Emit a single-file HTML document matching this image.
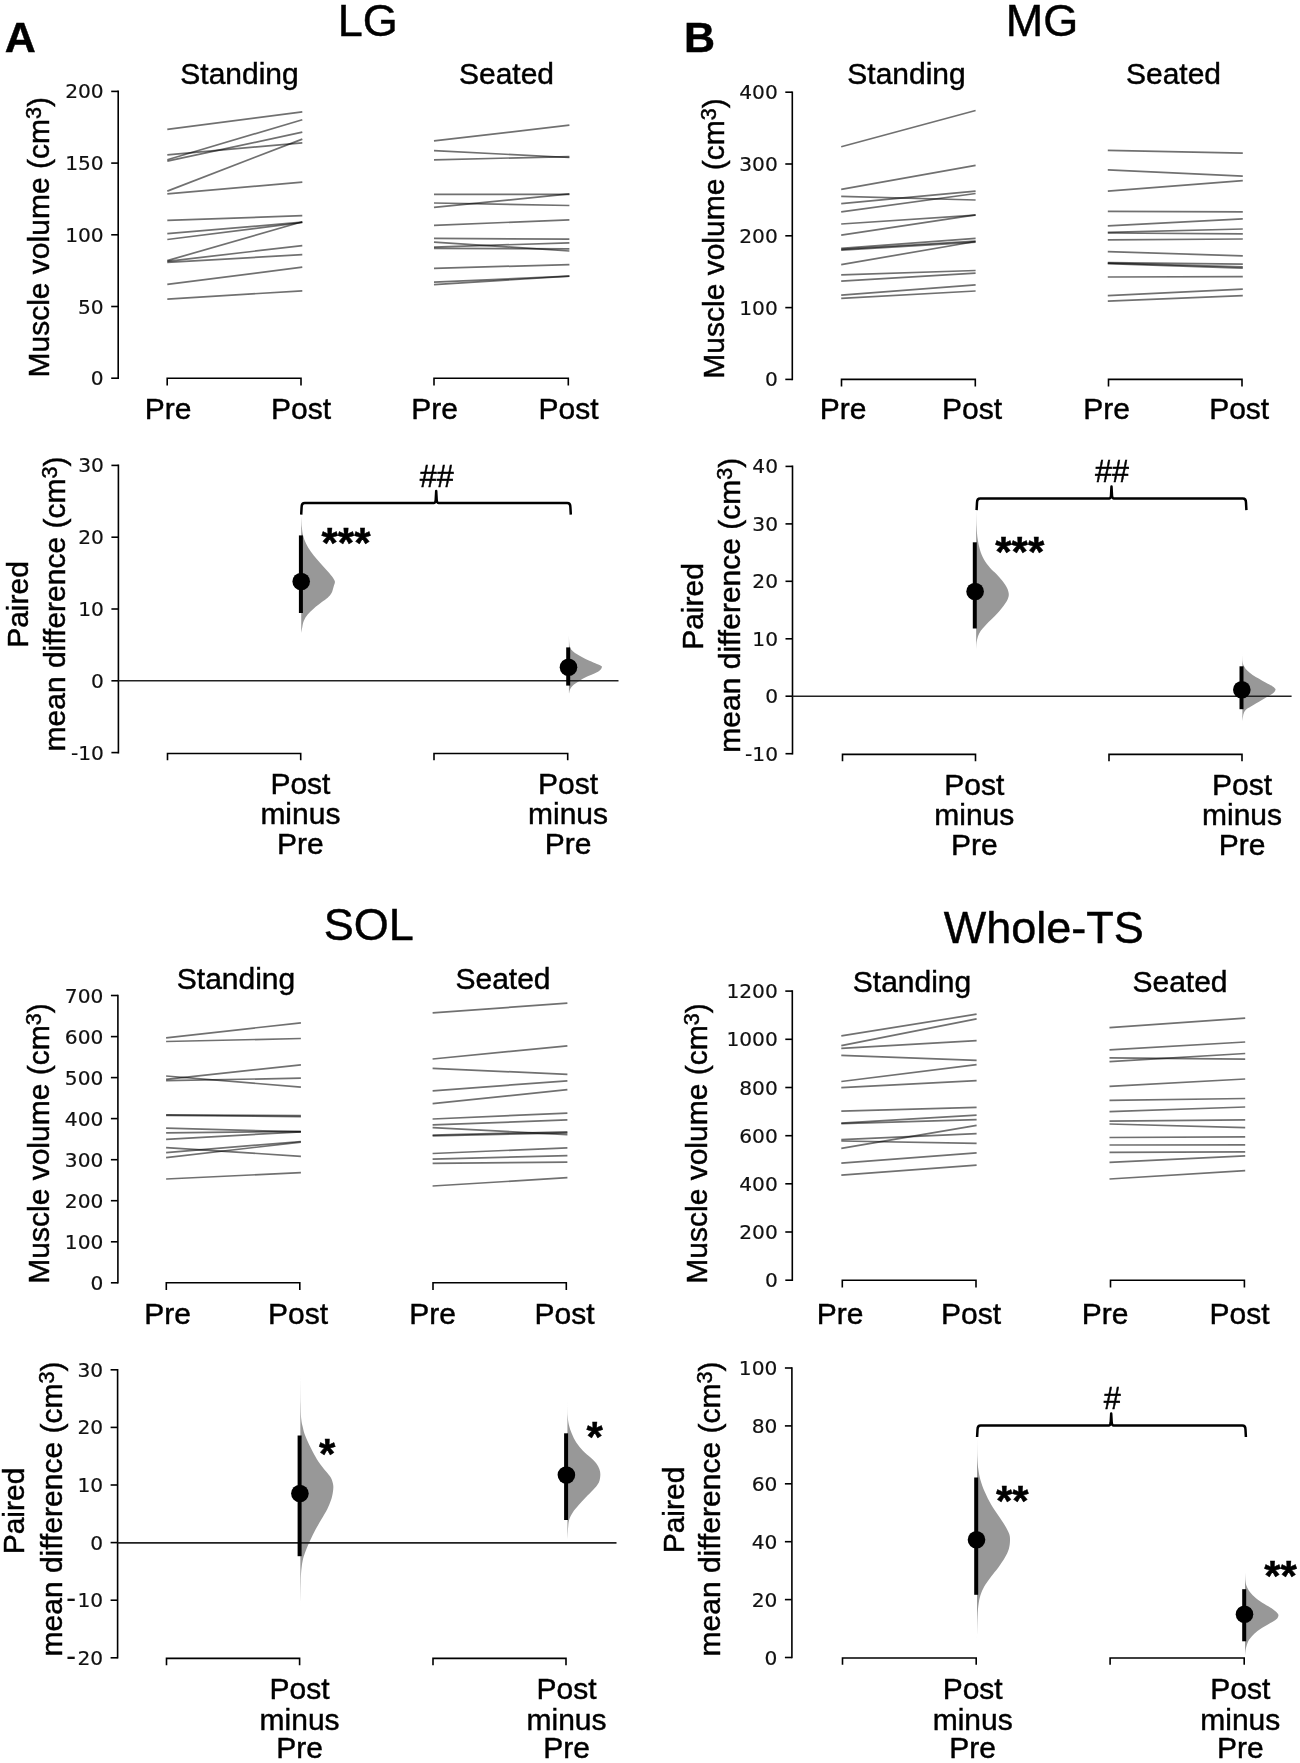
<!DOCTYPE html>
<html><head><meta charset="utf-8"><title>Figure</title>
<style>
html,body{margin:0;padding:0;background:#fff;}
svg{display:block;will-change:transform;}
text{font-family:"Liberation Sans",Arial,Helvetica,sans-serif;fill:#000;stroke:#000;stroke-width:0.45px;}
.tk{font-family:"DejaVu Sans",Verdana,sans-serif;font-size:20.2px;fill:#111;stroke:#111;stroke-width:0.2px;}
</style></head><body>
<svg width="1300" height="1763" viewBox="0 0 1300 1763">
<rect width="1300" height="1763" fill="#fff"/>
<text x="20.2" y="51.5" text-anchor="middle" font-size="43" font-weight="bold">A</text>
<text x="367.7" y="36.0" text-anchor="middle" font-size="45" >LG</text>
<text x="239.5" y="84.0" text-anchor="middle" font-size="30" >Standing</text>
<text x="506.5" y="84.0" text-anchor="middle" font-size="30" >Seated</text>
<line x1="118.2" y1="90.6" x2="118.2" y2="379.0" stroke="#000" stroke-width="1.6"/>
<line x1="111.2" y1="378.2" x2="118.2" y2="378.2" stroke="#000" stroke-width="1.6"/>
<text x="103.7" y="385.2" text-anchor="end" class="tk">0</text>
<line x1="111.2" y1="306.5" x2="118.2" y2="306.5" stroke="#000" stroke-width="1.6"/>
<text x="103.7" y="313.5" text-anchor="end" class="tk">50</text>
<line x1="111.2" y1="234.8" x2="118.2" y2="234.8" stroke="#000" stroke-width="1.6"/>
<text x="103.7" y="241.8" text-anchor="end" class="tk">100</text>
<line x1="111.2" y1="163.1" x2="118.2" y2="163.1" stroke="#000" stroke-width="1.6"/>
<text x="103.7" y="170.1" text-anchor="end" class="tk">150</text>
<line x1="111.2" y1="91.4" x2="118.2" y2="91.4" stroke="#000" stroke-width="1.6"/>
<text x="103.7" y="98.4" text-anchor="end" class="tk">200</text>
<text transform="translate(49.0 237.3) rotate(-90)" text-anchor="middle" font-size="30">Muscle volume (cm<tspan font-size="72%" dy="-0.36em">3</tspan><tspan dy="0.26em">)</tspan></text>
<line x1="167.3" y1="129.3" x2="302.3" y2="111.8" stroke="#000" stroke-opacity="0.56" stroke-width="1.7"/>
<line x1="167.3" y1="154.8" x2="302.3" y2="142.8" stroke="#000" stroke-opacity="0.56" stroke-width="1.7"/>
<line x1="167.3" y1="159.8" x2="302.3" y2="119.7" stroke="#000" stroke-opacity="0.56" stroke-width="1.7"/>
<line x1="167.3" y1="161.2" x2="302.3" y2="132.1" stroke="#000" stroke-opacity="0.56" stroke-width="1.7"/>
<line x1="167.3" y1="191.1" x2="302.3" y2="139.1" stroke="#000" stroke-opacity="0.56" stroke-width="1.7"/>
<line x1="167.3" y1="193.9" x2="302.3" y2="182.1" stroke="#000" stroke-opacity="0.56" stroke-width="1.7"/>
<line x1="167.3" y1="220.3" x2="302.3" y2="215.7" stroke="#000" stroke-opacity="0.56" stroke-width="1.7"/>
<line x1="167.3" y1="233.6" x2="302.3" y2="222.2" stroke="#000" stroke-opacity="0.56" stroke-width="1.7"/>
<line x1="167.3" y1="239.5" x2="302.3" y2="222.5" stroke="#000" stroke-opacity="0.56" stroke-width="1.7"/>
<line x1="167.3" y1="260.6" x2="302.3" y2="221.8" stroke="#000" stroke-opacity="0.56" stroke-width="1.7"/>
<line x1="167.3" y1="261.3" x2="302.3" y2="245.6" stroke="#000" stroke-opacity="0.56" stroke-width="1.7"/>
<line x1="167.3" y1="262.4" x2="302.3" y2="254.6" stroke="#000" stroke-opacity="0.56" stroke-width="1.7"/>
<line x1="167.3" y1="284.4" x2="302.3" y2="267.2" stroke="#000" stroke-opacity="0.56" stroke-width="1.7"/>
<line x1="167.3" y1="299.1" x2="302.3" y2="290.8" stroke="#000" stroke-opacity="0.56" stroke-width="1.7"/>
<line x1="434.0" y1="140.9" x2="569.4" y2="125.2" stroke="#000" stroke-opacity="0.56" stroke-width="1.7"/>
<line x1="434.0" y1="150.7" x2="569.4" y2="157.5" stroke="#000" stroke-opacity="0.56" stroke-width="1.7"/>
<line x1="434.0" y1="159.8" x2="569.4" y2="156.6" stroke="#000" stroke-opacity="0.56" stroke-width="1.7"/>
<line x1="434.0" y1="194.3" x2="569.4" y2="194.3" stroke="#000" stroke-opacity="0.56" stroke-width="1.7"/>
<line x1="434.0" y1="203.0" x2="569.4" y2="205.5" stroke="#000" stroke-opacity="0.56" stroke-width="1.7"/>
<line x1="434.0" y1="207.4" x2="569.4" y2="193.9" stroke="#000" stroke-opacity="0.56" stroke-width="1.7"/>
<line x1="434.0" y1="225.3" x2="569.4" y2="219.9" stroke="#000" stroke-opacity="0.56" stroke-width="1.7"/>
<line x1="434.0" y1="238.4" x2="569.4" y2="239.1" stroke="#000" stroke-opacity="0.56" stroke-width="1.7"/>
<line x1="434.0" y1="242.1" x2="569.4" y2="251.0" stroke="#000" stroke-opacity="0.56" stroke-width="1.7"/>
<line x1="434.0" y1="247.1" x2="569.4" y2="242.8" stroke="#000" stroke-opacity="0.56" stroke-width="1.7"/>
<line x1="434.0" y1="248.4" x2="569.4" y2="248.9" stroke="#000" stroke-opacity="0.56" stroke-width="1.7"/>
<line x1="434.0" y1="268.3" x2="569.4" y2="264.6" stroke="#000" stroke-opacity="0.56" stroke-width="1.7"/>
<line x1="434.0" y1="282.2" x2="569.4" y2="276.2" stroke="#000" stroke-opacity="0.56" stroke-width="1.7"/>
<line x1="434.0" y1="284.6" x2="569.4" y2="276.2" stroke="#000" stroke-opacity="0.56" stroke-width="1.7"/>
<path d="M167.2 385.4V378.2H301.0V385.4" fill="none" stroke="#000" stroke-width="1.6"/>
<path d="M434.0 385.4V378.2H568.3V385.4" fill="none" stroke="#000" stroke-width="1.6"/>
<text x="168.0" y="419.0" text-anchor="middle" font-size="30" >Pre</text>
<text x="301.0" y="419.0" text-anchor="middle" font-size="30" >Post</text>
<text x="434.5" y="419.0" text-anchor="middle" font-size="30" >Pre</text>
<text x="568.5" y="419.0" text-anchor="middle" font-size="30" >Post</text>
<line x1="118.4" y1="464.6" x2="118.4" y2="753.4" stroke="#000" stroke-width="1.6"/>
<line x1="111.4" y1="752.6" x2="118.4" y2="752.6" stroke="#000" stroke-width="1.6"/>
<text x="103.9" y="759.6" text-anchor="end" class="tk">-10</text>
<line x1="111.4" y1="680.8" x2="118.4" y2="680.8" stroke="#000" stroke-width="1.6"/>
<text x="103.9" y="687.8" text-anchor="end" class="tk">0</text>
<line x1="111.4" y1="609.0" x2="118.4" y2="609.0" stroke="#000" stroke-width="1.6"/>
<text x="103.9" y="616.0" text-anchor="end" class="tk">10</text>
<line x1="111.4" y1="537.2" x2="118.4" y2="537.2" stroke="#000" stroke-width="1.6"/>
<text x="103.9" y="544.2" text-anchor="end" class="tk">20</text>
<line x1="111.4" y1="465.4" x2="118.4" y2="465.4" stroke="#000" stroke-width="1.6"/>
<text x="103.9" y="472.4" text-anchor="end" class="tk">30</text>
<text transform="translate(27.5 604.5) rotate(-90)" text-anchor="middle" font-size="30">Paired</text>
<text transform="translate(64.7 604.0) rotate(-90)" text-anchor="middle" font-size="30">mean difference (cm<tspan font-size="72%" dy="-0.36em">3</tspan><tspan dy="0.26em">)</tspan></text>
<path d="M301.23 516.15C301.33 517.95 301.54 523.72 301.85 526.92C302.15 530.13 302.36 532.56 303.08 535.38C303.79 538.21 304.87 541.15 306.15 543.85C307.44 546.54 308.97 548.97 310.77 551.54C312.56 554.10 314.87 556.79 316.92 559.23C318.97 561.67 321.03 563.85 323.08 566.15C325.13 568.46 327.44 570.90 329.23 573.08C331.03 575.26 332.90 577.69 333.85 579.23C334.79 580.77 334.97 581.03 334.92 582.31C334.87 583.59 334.10 585.13 333.54 586.92C332.97 588.72 332.51 591.28 331.54 593.08C330.56 594.87 329.36 596.15 327.69 597.69C326.03 599.23 323.85 600.51 321.54 602.31C319.23 604.10 316.15 606.41 313.85 608.46C311.54 610.51 309.36 612.56 307.69 614.62C306.03 616.67 304.74 618.72 303.85 620.77C302.95 622.82 302.74 624.87 302.31 626.92C301.87 628.97 301.41 632.05 301.23 633.08L301.23 633.08 Z" fill="#989898"/>
<path d="M568.92 635.54C568.98 636.79 569.07 641.10 569.25 643.08C569.43 645.05 569.52 646.13 570.00 647.38C570.48 648.64 571.26 649.63 572.15 650.62C573.05 651.60 573.77 652.23 575.38 653.31C577.00 654.38 579.51 655.82 581.85 657.08C584.18 658.33 586.87 659.68 589.38 660.85C591.90 662.01 594.95 663.23 596.92 664.08C598.90 664.92 600.41 665.42 601.23 665.91C602.06 666.39 601.97 666.39 601.88 666.98C601.79 667.58 601.52 668.56 600.69 669.46C599.87 670.36 598.45 671.47 596.92 672.37C595.40 673.27 593.51 673.98 591.54 674.85C589.56 675.71 587.05 676.55 585.08 677.54C583.10 678.53 581.31 679.78 579.69 680.77C578.08 681.76 576.64 682.56 575.38 683.46C574.13 684.36 573.05 685.17 572.15 686.15C571.26 687.14 570.50 688.22 570.00 689.38C569.50 690.55 569.28 692.53 569.14 693.15L568.92 693.15 Z" fill="#989898"/>
<line x1="118.4" y1="680.8" x2="618.5" y2="680.8" stroke="#222" stroke-width="1.6"/>
<line x1="300.9" y1="535.4" x2="300.9" y2="613.0" stroke="#000" stroke-width="4.0"/>
<circle cx="301.2" cy="581.5" r="8.8" fill="#000"/>
<line x1="568.2" y1="647.4" x2="568.2" y2="685.6" stroke="#000" stroke-width="4.0"/>
<circle cx="568.5" cy="667.3" r="8.8" fill="#000"/>
<path d="M301.2 514.6 L301.6 507.3 Q301.6 503.1 304.8 503.1 H433.8 Q435.3 503.1 435.7 500.1 L436.2 491.1 L436.7 500.1 Q437.1 503.1 438.6 503.1 H567.2 Q570.4 503.1 570.4 507.3 L570.8 514.6" fill="none" stroke="#000" stroke-width="2.5" stroke-linejoin="round"/>
<text x="436.7" y="486.8" text-anchor="middle" font-size="30.5" stroke-width="1.1">##</text>
<text x="346.0" y="556.5" text-anchor="middle" font-size="42" font-weight="bold">***</text>
<path d="M167.5 760.3V753.5H300.7V760.3" fill="none" stroke="#000" stroke-width="1.6"/>
<path d="M434.0 760.3V753.5H567.7V760.3" fill="none" stroke="#000" stroke-width="1.6"/>
<text x="300.4" y="794.0" text-anchor="middle" font-size="30" >Post</text>
<text x="300.4" y="824.0" text-anchor="middle" font-size="30" >minus</text>
<text x="300.4" y="854.0" text-anchor="middle" font-size="30" >Pre</text>
<text x="568.0" y="794.0" text-anchor="middle" font-size="30" >Post</text>
<text x="568.0" y="824.0" text-anchor="middle" font-size="30" >minus</text>
<text x="568.0" y="854.0" text-anchor="middle" font-size="30" >Pre</text>
<text x="699.5" y="51.5" text-anchor="middle" font-size="43" font-weight="bold">B</text>
<text x="1042.0" y="36.3" text-anchor="middle" font-size="45" >MG</text>
<text x="906.5" y="84.0" text-anchor="middle" font-size="30" >Standing</text>
<text x="1173.5" y="84.0" text-anchor="middle" font-size="30" >Seated</text>
<line x1="792.3" y1="91.5" x2="792.3" y2="380.2" stroke="#000" stroke-width="1.6"/>
<line x1="785.3" y1="379.4" x2="792.3" y2="379.4" stroke="#000" stroke-width="1.6"/>
<text x="777.8" y="386.4" text-anchor="end" class="tk">0</text>
<line x1="785.3" y1="307.6" x2="792.3" y2="307.6" stroke="#000" stroke-width="1.6"/>
<text x="777.8" y="314.6" text-anchor="end" class="tk">100</text>
<line x1="785.3" y1="235.8" x2="792.3" y2="235.8" stroke="#000" stroke-width="1.6"/>
<text x="777.8" y="242.8" text-anchor="end" class="tk">200</text>
<line x1="785.3" y1="164.0" x2="792.3" y2="164.0" stroke="#000" stroke-width="1.6"/>
<text x="777.8" y="171.0" text-anchor="end" class="tk">300</text>
<line x1="785.3" y1="92.2" x2="792.3" y2="92.2" stroke="#000" stroke-width="1.6"/>
<text x="777.8" y="99.2" text-anchor="end" class="tk">400</text>
<text transform="translate(724.0 238.5) rotate(-90)" text-anchor="middle" font-size="30">Muscle volume (cm<tspan font-size="72%" dy="-0.36em">3</tspan><tspan dy="0.26em">)</tspan></text>
<line x1="841.2" y1="146.8" x2="975.6" y2="110.5" stroke="#000" stroke-opacity="0.56" stroke-width="1.7"/>
<line x1="841.2" y1="189.3" x2="975.6" y2="165.3" stroke="#000" stroke-opacity="0.56" stroke-width="1.7"/>
<line x1="841.2" y1="196.3" x2="975.6" y2="200.0" stroke="#000" stroke-opacity="0.56" stroke-width="1.7"/>
<line x1="841.2" y1="203.7" x2="975.6" y2="191.1" stroke="#000" stroke-opacity="0.56" stroke-width="1.7"/>
<line x1="841.2" y1="211.8" x2="975.6" y2="193.5" stroke="#000" stroke-opacity="0.56" stroke-width="1.7"/>
<line x1="841.2" y1="224.0" x2="975.6" y2="215.1" stroke="#000" stroke-opacity="0.56" stroke-width="1.7"/>
<line x1="841.2" y1="235.1" x2="975.6" y2="214.8" stroke="#000" stroke-opacity="0.56" stroke-width="1.7"/>
<line x1="841.2" y1="248.4" x2="975.6" y2="238.4" stroke="#000" stroke-opacity="0.56" stroke-width="1.7"/>
<line x1="841.2" y1="249.3" x2="975.6" y2="241.0" stroke="#000" stroke-opacity="0.56" stroke-width="1.7"/>
<line x1="841.2" y1="250.2" x2="975.6" y2="242.1" stroke="#000" stroke-opacity="0.56" stroke-width="1.7"/>
<line x1="841.2" y1="264.6" x2="975.6" y2="241.5" stroke="#000" stroke-opacity="0.56" stroke-width="1.7"/>
<line x1="841.2" y1="274.8" x2="975.6" y2="270.5" stroke="#000" stroke-opacity="0.56" stroke-width="1.7"/>
<line x1="841.2" y1="281.2" x2="975.6" y2="273.1" stroke="#000" stroke-opacity="0.56" stroke-width="1.7"/>
<line x1="841.2" y1="295.1" x2="975.6" y2="284.9" stroke="#000" stroke-opacity="0.56" stroke-width="1.7"/>
<line x1="841.2" y1="298.4" x2="975.6" y2="291.0" stroke="#000" stroke-opacity="0.56" stroke-width="1.7"/>
<line x1="1107.8" y1="150.3" x2="1242.8" y2="153.1" stroke="#000" stroke-opacity="0.56" stroke-width="1.7"/>
<line x1="1107.8" y1="169.9" x2="1242.8" y2="176.2" stroke="#000" stroke-opacity="0.56" stroke-width="1.7"/>
<line x1="1107.8" y1="191.1" x2="1242.8" y2="180.6" stroke="#000" stroke-opacity="0.56" stroke-width="1.7"/>
<line x1="1107.8" y1="211.3" x2="1242.8" y2="211.8" stroke="#000" stroke-opacity="0.56" stroke-width="1.7"/>
<line x1="1107.8" y1="225.8" x2="1242.8" y2="218.8" stroke="#000" stroke-opacity="0.56" stroke-width="1.7"/>
<line x1="1107.8" y1="232.3" x2="1242.8" y2="229.0" stroke="#000" stroke-opacity="0.56" stroke-width="1.7"/>
<line x1="1107.8" y1="233.0" x2="1242.8" y2="233.8" stroke="#000" stroke-opacity="0.56" stroke-width="1.7"/>
<line x1="1107.8" y1="239.9" x2="1242.8" y2="239.0" stroke="#000" stroke-opacity="0.56" stroke-width="1.7"/>
<line x1="1107.8" y1="251.7" x2="1242.8" y2="255.8" stroke="#000" stroke-opacity="0.56" stroke-width="1.7"/>
<line x1="1107.8" y1="262.6" x2="1242.8" y2="264.2" stroke="#000" stroke-opacity="0.56" stroke-width="1.7"/>
<line x1="1107.8" y1="263.1" x2="1242.8" y2="266.8" stroke="#000" stroke-opacity="0.56" stroke-width="1.7"/>
<line x1="1107.8" y1="263.7" x2="1242.8" y2="268.1" stroke="#000" stroke-opacity="0.56" stroke-width="1.7"/>
<line x1="1107.8" y1="277.0" x2="1242.8" y2="276.6" stroke="#000" stroke-opacity="0.56" stroke-width="1.7"/>
<line x1="1107.8" y1="295.6" x2="1242.8" y2="289.2" stroke="#000" stroke-opacity="0.56" stroke-width="1.7"/>
<line x1="1107.8" y1="301.2" x2="1242.8" y2="295.6" stroke="#000" stroke-opacity="0.56" stroke-width="1.7"/>
<path d="M841.5 386.6V379.4H975.3V386.6" fill="none" stroke="#000" stroke-width="1.6"/>
<path d="M1108.5 386.6V379.4H1242.0V386.6" fill="none" stroke="#000" stroke-width="1.6"/>
<text x="843.1" y="419.0" text-anchor="middle" font-size="30" >Pre</text>
<text x="972.0" y="419.0" text-anchor="middle" font-size="30" >Post</text>
<text x="1106.5" y="419.0" text-anchor="middle" font-size="30" >Pre</text>
<text x="1239.2" y="419.0" text-anchor="middle" font-size="30" >Post</text>
<line x1="792.5" y1="465.5" x2="792.5" y2="754.5" stroke="#000" stroke-width="1.6"/>
<line x1="785.5" y1="753.7" x2="792.5" y2="753.7" stroke="#000" stroke-width="1.6"/>
<text x="778.0" y="760.7" text-anchor="end" class="tk">-10</text>
<line x1="785.5" y1="696.2" x2="792.5" y2="696.2" stroke="#000" stroke-width="1.6"/>
<text x="778.0" y="703.2" text-anchor="end" class="tk">0</text>
<line x1="785.5" y1="638.8" x2="792.5" y2="638.8" stroke="#000" stroke-width="1.6"/>
<text x="778.0" y="645.8" text-anchor="end" class="tk">10</text>
<line x1="785.5" y1="581.3" x2="792.5" y2="581.3" stroke="#000" stroke-width="1.6"/>
<text x="778.0" y="588.3" text-anchor="end" class="tk">20</text>
<line x1="785.5" y1="523.9" x2="792.5" y2="523.9" stroke="#000" stroke-width="1.6"/>
<text x="778.0" y="530.9" text-anchor="end" class="tk">30</text>
<line x1="785.5" y1="466.4" x2="792.5" y2="466.4" stroke="#000" stroke-width="1.6"/>
<text x="778.0" y="473.4" text-anchor="end" class="tk">40</text>
<text transform="translate(702.5 606.5) rotate(-90)" text-anchor="middle" font-size="30">Paired</text>
<text transform="translate(740.0 605.2) rotate(-90)" text-anchor="middle" font-size="30">mean difference (cm<tspan font-size="72%" dy="-0.36em">3</tspan><tspan dy="0.26em">)</tspan></text>
<path d="M976.15 510.77C976.23 513.46 976.36 522.18 976.62 526.92C976.87 531.67 977.13 535.38 977.69 539.23C978.26 543.08 978.97 546.67 980.00 550.00C981.03 553.33 982.18 556.28 983.85 559.23C985.51 562.18 987.95 565.26 990.00 567.69C992.05 570.13 994.10 571.67 996.15 573.85C998.21 576.03 1000.51 578.46 1002.31 580.77C1004.10 583.08 1005.85 585.51 1006.92 587.69C1008.00 589.87 1008.64 591.92 1008.77 593.85C1008.90 595.77 1008.51 597.31 1007.69 599.23C1006.87 601.15 1005.51 603.08 1003.85 605.38C1002.18 607.69 999.74 610.77 997.69 613.08C995.64 615.38 993.59 617.18 991.54 619.23C989.49 621.28 987.18 623.46 985.38 625.38C983.59 627.31 982.00 628.97 980.77 630.77C979.54 632.56 978.69 634.23 978.00 636.15C977.31 638.08 976.92 640.00 976.62 642.31C976.31 644.62 976.23 648.72 976.15 650.00L976.15 650.00 Z" fill="#989898"/>
<path d="M1242.38 653.92C1242.44 655.27 1242.44 659.94 1242.71 662.00C1242.98 664.06 1243.25 664.87 1244.00 666.31C1244.75 667.74 1245.80 669.18 1247.23 670.62C1248.67 672.05 1250.64 673.58 1252.62 674.92C1254.59 676.27 1256.92 677.44 1259.08 678.69C1261.23 679.95 1263.38 681.26 1265.54 682.46C1267.69 683.66 1270.42 684.92 1272.00 685.91C1273.58 686.89 1274.44 687.70 1275.02 688.38C1275.59 689.07 1275.68 689.28 1275.45 690.00C1275.21 690.72 1274.73 691.71 1273.62 692.69C1272.50 693.68 1270.65 694.76 1268.77 695.92C1266.88 697.09 1264.46 698.44 1262.31 699.69C1260.15 700.95 1257.82 702.29 1255.85 703.46C1253.87 704.63 1252.08 705.71 1250.46 706.69C1248.85 707.68 1247.23 708.40 1246.15 709.38C1245.08 710.37 1244.54 711.36 1244.00 712.62C1243.46 713.87 1243.19 715.49 1242.92 716.92C1242.65 718.36 1242.47 720.51 1242.38 721.23L1242.38 721.23 Z" fill="#989898"/>
<line x1="792.5" y1="696.2" x2="1291.6" y2="696.2" stroke="#222" stroke-width="1.6"/>
<line x1="974.8" y1="542.3" x2="974.8" y2="628.5" stroke="#000" stroke-width="4.0"/>
<circle cx="975.1" cy="591.5" r="8.8" fill="#000"/>
<line x1="1241.5" y1="666.3" x2="1241.5" y2="709.2" stroke="#000" stroke-width="4.0"/>
<circle cx="1241.8" cy="689.8" r="8.8" fill="#000"/>
<path d="M976.6 510.1 L977.0 502.8 Q977.0 498.6 980.2 498.6 H1109.1 Q1110.6 498.6 1111.0 495.6 L1111.5 486.6 L1112.0 495.6 Q1112.4 498.6 1113.9 498.6 H1242.8 Q1246.0 498.6 1246.0 502.8 L1246.4 510.1" fill="none" stroke="#000" stroke-width="2.5" stroke-linejoin="round"/>
<text x="1112.0" y="482.3" text-anchor="middle" font-size="30.5" stroke-width="1.1">##</text>
<text x="1019.8" y="566.0" text-anchor="middle" font-size="42" font-weight="bold">***</text>
<path d="M842.5 761.2V754.4H975.5V761.2" fill="none" stroke="#000" stroke-width="1.6"/>
<path d="M1109.0 761.2V754.4H1242.0V761.2" fill="none" stroke="#000" stroke-width="1.6"/>
<text x="974.3" y="795.0" text-anchor="middle" font-size="30" >Post</text>
<text x="974.3" y="825.0" text-anchor="middle" font-size="30" >minus</text>
<text x="974.3" y="855.0" text-anchor="middle" font-size="30" >Pre</text>
<text x="1242.0" y="795.0" text-anchor="middle" font-size="30" >Post</text>
<text x="1242.0" y="825.0" text-anchor="middle" font-size="30" >minus</text>
<text x="1242.0" y="855.0" text-anchor="middle" font-size="30" >Pre</text>
<text x="368.7" y="940.0" text-anchor="middle" font-size="45" >SOL</text>
<text x="236.0" y="989.0" text-anchor="middle" font-size="30" >Standing</text>
<text x="503.0" y="989.0" text-anchor="middle" font-size="30" >Seated</text>
<line x1="117.9" y1="994.7" x2="117.9" y2="1283.6" stroke="#000" stroke-width="1.6"/>
<line x1="110.9" y1="1282.8" x2="117.9" y2="1282.8" stroke="#000" stroke-width="1.6"/>
<text x="103.4" y="1289.8" text-anchor="end" class="tk">0</text>
<line x1="110.9" y1="1241.8" x2="117.9" y2="1241.8" stroke="#000" stroke-width="1.6"/>
<text x="103.4" y="1248.8" text-anchor="end" class="tk">100</text>
<line x1="110.9" y1="1200.7" x2="117.9" y2="1200.7" stroke="#000" stroke-width="1.6"/>
<text x="103.4" y="1207.7" text-anchor="end" class="tk">200</text>
<line x1="110.9" y1="1159.7" x2="117.9" y2="1159.7" stroke="#000" stroke-width="1.6"/>
<text x="103.4" y="1166.7" text-anchor="end" class="tk">300</text>
<line x1="110.9" y1="1118.6" x2="117.9" y2="1118.6" stroke="#000" stroke-width="1.6"/>
<text x="103.4" y="1125.6" text-anchor="end" class="tk">400</text>
<line x1="110.9" y1="1077.6" x2="117.9" y2="1077.6" stroke="#000" stroke-width="1.6"/>
<text x="103.4" y="1084.6" text-anchor="end" class="tk">500</text>
<line x1="110.9" y1="1036.6" x2="117.9" y2="1036.6" stroke="#000" stroke-width="1.6"/>
<text x="103.4" y="1043.6" text-anchor="end" class="tk">600</text>
<line x1="110.9" y1="995.5" x2="117.9" y2="995.5" stroke="#000" stroke-width="1.6"/>
<text x="103.4" y="1002.5" text-anchor="end" class="tk">700</text>
<text transform="translate(49.0 1143.5) rotate(-90)" text-anchor="middle" font-size="30">Muscle volume (cm<tspan font-size="72%" dy="-0.36em">3</tspan><tspan dy="0.26em">)</tspan></text>
<line x1="166.1" y1="1037.8" x2="300.9" y2="1022.8" stroke="#000" stroke-opacity="0.56" stroke-width="1.7"/>
<line x1="166.1" y1="1041.5" x2="300.9" y2="1038.5" stroke="#000" stroke-opacity="0.56" stroke-width="1.7"/>
<line x1="166.1" y1="1076.0" x2="300.9" y2="1087.1" stroke="#000" stroke-opacity="0.56" stroke-width="1.7"/>
<line x1="166.1" y1="1079.3" x2="300.9" y2="1064.9" stroke="#000" stroke-opacity="0.56" stroke-width="1.7"/>
<line x1="166.1" y1="1080.6" x2="300.9" y2="1078.2" stroke="#000" stroke-opacity="0.56" stroke-width="1.7"/>
<line x1="166.1" y1="1114.8" x2="300.9" y2="1115.7" stroke="#000" stroke-opacity="0.56" stroke-width="1.7"/>
<line x1="166.1" y1="1115.3" x2="300.9" y2="1116.6" stroke="#000" stroke-opacity="0.56" stroke-width="1.7"/>
<line x1="166.1" y1="1128.2" x2="300.9" y2="1131.8" stroke="#000" stroke-opacity="0.56" stroke-width="1.7"/>
<line x1="166.1" y1="1132.9" x2="300.9" y2="1131.4" stroke="#000" stroke-opacity="0.56" stroke-width="1.7"/>
<line x1="166.1" y1="1139.3" x2="300.9" y2="1131.8" stroke="#000" stroke-opacity="0.56" stroke-width="1.7"/>
<line x1="166.1" y1="1147.6" x2="300.9" y2="1156.3" stroke="#000" stroke-opacity="0.56" stroke-width="1.7"/>
<line x1="166.1" y1="1152.6" x2="300.9" y2="1141.5" stroke="#000" stroke-opacity="0.56" stroke-width="1.7"/>
<line x1="166.1" y1="1157.6" x2="300.9" y2="1142.1" stroke="#000" stroke-opacity="0.56" stroke-width="1.7"/>
<line x1="166.1" y1="1179.0" x2="300.9" y2="1172.6" stroke="#000" stroke-opacity="0.56" stroke-width="1.7"/>
<line x1="432.6" y1="1012.9" x2="567.4" y2="1003.1" stroke="#000" stroke-opacity="0.56" stroke-width="1.7"/>
<line x1="432.6" y1="1059.0" x2="567.4" y2="1045.9" stroke="#000" stroke-opacity="0.56" stroke-width="1.7"/>
<line x1="432.6" y1="1068.4" x2="567.4" y2="1074.3" stroke="#000" stroke-opacity="0.56" stroke-width="1.7"/>
<line x1="432.6" y1="1090.8" x2="567.4" y2="1080.8" stroke="#000" stroke-opacity="0.56" stroke-width="1.7"/>
<line x1="432.6" y1="1103.7" x2="567.4" y2="1089.7" stroke="#000" stroke-opacity="0.56" stroke-width="1.7"/>
<line x1="432.6" y1="1119.0" x2="567.4" y2="1113.1" stroke="#000" stroke-opacity="0.56" stroke-width="1.7"/>
<line x1="432.6" y1="1124.9" x2="567.4" y2="1119.9" stroke="#000" stroke-opacity="0.56" stroke-width="1.7"/>
<line x1="432.6" y1="1127.7" x2="567.4" y2="1134.7" stroke="#000" stroke-opacity="0.56" stroke-width="1.7"/>
<line x1="432.6" y1="1135.1" x2="567.4" y2="1131.8" stroke="#000" stroke-opacity="0.56" stroke-width="1.7"/>
<line x1="432.6" y1="1135.8" x2="567.4" y2="1132.9" stroke="#000" stroke-opacity="0.56" stroke-width="1.7"/>
<line x1="432.6" y1="1153.5" x2="567.4" y2="1147.8" stroke="#000" stroke-opacity="0.56" stroke-width="1.7"/>
<line x1="432.6" y1="1159.1" x2="567.4" y2="1155.6" stroke="#000" stroke-opacity="0.56" stroke-width="1.7"/>
<line x1="432.6" y1="1163.3" x2="567.4" y2="1162.2" stroke="#000" stroke-opacity="0.56" stroke-width="1.7"/>
<line x1="432.6" y1="1186.0" x2="567.4" y2="1177.7" stroke="#000" stroke-opacity="0.56" stroke-width="1.7"/>
<path d="M166.3 1290.0V1282.8H299.8V1290.0" fill="none" stroke="#000" stroke-width="1.6"/>
<path d="M433.0 1290.0V1282.8H566.3V1290.0" fill="none" stroke="#000" stroke-width="1.6"/>
<text x="167.5" y="1323.5" text-anchor="middle" font-size="30" >Pre</text>
<text x="298.0" y="1323.5" text-anchor="middle" font-size="30" >Post</text>
<text x="432.5" y="1323.5" text-anchor="middle" font-size="30" >Pre</text>
<text x="564.5" y="1323.5" text-anchor="middle" font-size="30" >Post</text>
<line x1="117.6" y1="1369.0" x2="117.6" y2="1658.6" stroke="#000" stroke-width="1.6"/>
<line x1="110.6" y1="1657.8" x2="117.6" y2="1657.8" stroke="#000" stroke-width="1.6"/>
<text x="103.1" y="1664.8" text-anchor="end" class="tk"><tspan font-size="27">-</tspan><tspan dx="1.3">20</tspan></text>
<line x1="110.6" y1="1600.2" x2="117.6" y2="1600.2" stroke="#000" stroke-width="1.6"/>
<text x="103.1" y="1607.2" text-anchor="end" class="tk"><tspan font-size="27">-</tspan><tspan dx="1.3">10</tspan></text>
<line x1="110.6" y1="1542.6" x2="117.6" y2="1542.6" stroke="#000" stroke-width="1.6"/>
<text x="103.1" y="1549.6" text-anchor="end" class="tk">0</text>
<line x1="110.6" y1="1485.0" x2="117.6" y2="1485.0" stroke="#000" stroke-width="1.6"/>
<text x="103.1" y="1492.0" text-anchor="end" class="tk">10</text>
<line x1="110.6" y1="1427.4" x2="117.6" y2="1427.4" stroke="#000" stroke-width="1.6"/>
<text x="103.1" y="1434.4" text-anchor="end" class="tk">20</text>
<line x1="110.6" y1="1369.8" x2="117.6" y2="1369.8" stroke="#000" stroke-width="1.6"/>
<text x="103.1" y="1376.8" text-anchor="end" class="tk">30</text>
<text transform="translate(24.0 1511.0) rotate(-90)" text-anchor="middle" font-size="30">Paired</text>
<text transform="translate(62.0 1509.0) rotate(-90)" text-anchor="middle" font-size="30">mean difference (cm<tspan font-size="72%" dy="-0.36em">3</tspan><tspan dy="0.26em">)</tspan></text>
<path d="M300.35 1374.75C300.40 1379.67 300.50 1396.87 300.65 1404.25C300.80 1411.62 300.92 1415.31 301.24 1419.00C301.56 1422.68 302.03 1423.91 302.57 1426.37C303.11 1428.83 303.55 1431.04 304.48 1433.75C305.42 1436.45 306.82 1439.65 308.17 1442.60C309.52 1445.55 310.88 1448.25 312.60 1451.45C314.32 1454.64 316.28 1458.45 318.50 1461.77C320.71 1465.09 323.78 1468.65 325.87 1471.36C327.96 1474.06 329.80 1475.66 331.03 1477.99C332.26 1480.33 332.95 1482.91 333.24 1485.37C333.54 1487.83 333.17 1490.29 332.80 1492.74C332.43 1495.20 331.94 1497.41 331.03 1500.12C330.12 1502.82 328.94 1505.77 327.35 1508.97C325.75 1512.16 323.41 1515.85 321.45 1519.29C319.48 1522.73 317.39 1526.18 315.55 1529.62C313.70 1533.06 311.98 1536.50 310.38 1539.94C308.79 1543.38 307.19 1547.07 305.96 1550.27C304.73 1553.46 303.77 1555.92 303.01 1559.12C302.25 1562.31 301.76 1565.75 301.39 1569.44C301.02 1573.13 300.97 1575.09 300.80 1581.24C300.62 1587.38 300.43 1602.13 300.35 1606.31L300.35 1606.31 Z" fill="#989898"/>
<path d="M567.43 1402.04C567.48 1404.37 567.48 1412.24 567.73 1416.05C567.97 1419.86 568.22 1421.95 568.91 1424.90C569.60 1427.85 570.63 1430.80 571.86 1433.75C573.09 1436.70 574.44 1439.77 576.28 1442.60C578.13 1445.42 580.59 1448.25 582.92 1450.71C585.26 1453.17 588.08 1455.26 590.29 1457.35C592.51 1459.43 594.67 1461.28 596.19 1463.24C597.72 1465.21 598.75 1467.18 599.44 1469.14C600.13 1471.11 600.42 1472.83 600.32 1475.04C600.23 1477.26 600.03 1479.96 598.85 1482.42C597.67 1484.88 595.41 1487.34 593.24 1489.79C591.08 1492.25 588.33 1494.59 585.87 1497.17C583.41 1499.75 580.71 1502.70 578.50 1505.28C576.28 1507.86 574.12 1510.32 572.60 1512.65C571.07 1514.99 570.09 1516.96 569.35 1519.29C568.61 1521.63 568.49 1523.23 568.17 1526.67C567.85 1530.11 567.56 1537.73 567.43 1539.94L567.43 1539.94 Z" fill="#989898"/>
<line x1="117.6" y1="1542.9" x2="616.5" y2="1542.9" stroke="#222" stroke-width="1.6"/>
<line x1="299.6" y1="1435.5" x2="299.6" y2="1556.2" stroke="#000" stroke-width="4.0"/>
<circle cx="299.9" cy="1493.5" r="8.8" fill="#000"/>
<line x1="566.1" y1="1433.3" x2="566.1" y2="1520.0" stroke="#000" stroke-width="4.0"/>
<circle cx="566.4" cy="1475.0" r="8.8" fill="#000"/>
<text x="327.3" y="1467.5" text-anchor="middle" font-size="42" font-weight="bold">*</text>
<text x="594.7" y="1451.0" text-anchor="middle" font-size="42" font-weight="bold">*</text>
<path d="M166.5 1665.2V1658.4H299.6V1665.2" fill="none" stroke="#000" stroke-width="1.6"/>
<path d="M433.0 1665.2V1658.4H566.0V1665.2" fill="none" stroke="#000" stroke-width="1.6"/>
<text x="299.6" y="1699.3" text-anchor="middle" font-size="30" >Post</text>
<text x="299.6" y="1729.5" text-anchor="middle" font-size="30" >minus</text>
<text x="299.6" y="1758.3" text-anchor="middle" font-size="30" >Pre</text>
<text x="566.5" y="1699.3" text-anchor="middle" font-size="30" >Post</text>
<text x="566.5" y="1729.5" text-anchor="middle" font-size="30" >minus</text>
<text x="566.5" y="1758.3" text-anchor="middle" font-size="30" >Pre</text>
<text x="1043.7" y="943.2" text-anchor="middle" font-size="45" >Whole-TS</text>
<text x="912.0" y="992.0" text-anchor="middle" font-size="30" >Standing</text>
<text x="1180.0" y="992.0" text-anchor="middle" font-size="30" >Seated</text>
<line x1="792.3" y1="990.3" x2="792.3" y2="1281.0" stroke="#000" stroke-width="1.6"/>
<line x1="785.3" y1="1280.2" x2="792.3" y2="1280.2" stroke="#000" stroke-width="1.6"/>
<text x="777.8" y="1287.2" text-anchor="end" class="tk">0</text>
<line x1="785.3" y1="1232.0" x2="792.3" y2="1232.0" stroke="#000" stroke-width="1.6"/>
<text x="777.8" y="1239.0" text-anchor="end" class="tk">200</text>
<line x1="785.3" y1="1183.8" x2="792.3" y2="1183.8" stroke="#000" stroke-width="1.6"/>
<text x="777.8" y="1190.8" text-anchor="end" class="tk">400</text>
<line x1="785.3" y1="1135.7" x2="792.3" y2="1135.7" stroke="#000" stroke-width="1.6"/>
<text x="777.8" y="1142.7" text-anchor="end" class="tk">600</text>
<line x1="785.3" y1="1087.5" x2="792.3" y2="1087.5" stroke="#000" stroke-width="1.6"/>
<text x="777.8" y="1094.5" text-anchor="end" class="tk">800</text>
<line x1="785.3" y1="1039.3" x2="792.3" y2="1039.3" stroke="#000" stroke-width="1.6"/>
<text x="777.8" y="1046.3" text-anchor="end" class="tk">1000</text>
<line x1="785.3" y1="991.1" x2="792.3" y2="991.1" stroke="#000" stroke-width="1.6"/>
<text x="777.8" y="998.1" text-anchor="end" class="tk">1200</text>
<text transform="translate(707.0 1143.5) rotate(-90)" text-anchor="middle" font-size="30">Muscle volume (cm<tspan font-size="72%" dy="-0.36em">3</tspan><tspan dy="0.26em">)</tspan></text>
<line x1="841.3" y1="1035.8" x2="976.6" y2="1014.2" stroke="#000" stroke-opacity="0.56" stroke-width="1.7"/>
<line x1="841.3" y1="1045.7" x2="976.6" y2="1018.8" stroke="#000" stroke-opacity="0.56" stroke-width="1.7"/>
<line x1="841.3" y1="1048.3" x2="976.6" y2="1040.6" stroke="#000" stroke-opacity="0.56" stroke-width="1.7"/>
<line x1="841.3" y1="1055.3" x2="976.6" y2="1060.3" stroke="#000" stroke-opacity="0.56" stroke-width="1.7"/>
<line x1="841.3" y1="1081.5" x2="976.6" y2="1064.6" stroke="#000" stroke-opacity="0.56" stroke-width="1.7"/>
<line x1="841.3" y1="1087.6" x2="976.6" y2="1080.6" stroke="#000" stroke-opacity="0.56" stroke-width="1.7"/>
<line x1="841.3" y1="1111.1" x2="976.6" y2="1107.4" stroke="#000" stroke-opacity="0.56" stroke-width="1.7"/>
<line x1="841.3" y1="1123.1" x2="976.6" y2="1115.1" stroke="#000" stroke-opacity="0.56" stroke-width="1.7"/>
<line x1="841.3" y1="1123.6" x2="976.6" y2="1119.6" stroke="#000" stroke-opacity="0.56" stroke-width="1.7"/>
<line x1="841.3" y1="1139.7" x2="976.6" y2="1133.6" stroke="#000" stroke-opacity="0.56" stroke-width="1.7"/>
<line x1="841.3" y1="1141.0" x2="976.6" y2="1143.4" stroke="#000" stroke-opacity="0.56" stroke-width="1.7"/>
<line x1="841.3" y1="1148.4" x2="976.6" y2="1125.3" stroke="#000" stroke-opacity="0.56" stroke-width="1.7"/>
<line x1="841.3" y1="1163.1" x2="976.6" y2="1152.8" stroke="#000" stroke-opacity="0.56" stroke-width="1.7"/>
<line x1="841.3" y1="1175.1" x2="976.6" y2="1165.2" stroke="#000" stroke-opacity="0.56" stroke-width="1.7"/>
<line x1="1109.5" y1="1027.6" x2="1245.2" y2="1018.2" stroke="#000" stroke-opacity="0.56" stroke-width="1.7"/>
<line x1="1109.5" y1="1049.8" x2="1245.2" y2="1042.0" stroke="#000" stroke-opacity="0.56" stroke-width="1.7"/>
<line x1="1109.5" y1="1057.9" x2="1245.2" y2="1059.2" stroke="#000" stroke-opacity="0.56" stroke-width="1.7"/>
<line x1="1109.5" y1="1061.6" x2="1245.2" y2="1053.5" stroke="#000" stroke-opacity="0.56" stroke-width="1.7"/>
<line x1="1109.5" y1="1086.3" x2="1245.2" y2="1079.0" stroke="#000" stroke-opacity="0.56" stroke-width="1.7"/>
<line x1="1109.5" y1="1100.4" x2="1245.2" y2="1098.5" stroke="#000" stroke-opacity="0.56" stroke-width="1.7"/>
<line x1="1109.5" y1="1111.6" x2="1245.2" y2="1107.0" stroke="#000" stroke-opacity="0.56" stroke-width="1.7"/>
<line x1="1109.5" y1="1121.2" x2="1245.2" y2="1119.8" stroke="#000" stroke-opacity="0.56" stroke-width="1.7"/>
<line x1="1109.5" y1="1124.0" x2="1245.2" y2="1127.7" stroke="#000" stroke-opacity="0.56" stroke-width="1.7"/>
<line x1="1109.5" y1="1137.5" x2="1245.2" y2="1136.9" stroke="#000" stroke-opacity="0.56" stroke-width="1.7"/>
<line x1="1109.5" y1="1145.0" x2="1245.2" y2="1144.9" stroke="#000" stroke-opacity="0.56" stroke-width="1.7"/>
<line x1="1109.5" y1="1152.4" x2="1245.2" y2="1151.9" stroke="#000" stroke-opacity="0.56" stroke-width="1.7"/>
<line x1="1109.5" y1="1162.4" x2="1245.2" y2="1155.8" stroke="#000" stroke-opacity="0.56" stroke-width="1.7"/>
<line x1="1109.5" y1="1179.0" x2="1245.2" y2="1170.7" stroke="#000" stroke-opacity="0.56" stroke-width="1.7"/>
<path d="M842.3 1287.4V1280.2H976.0V1287.4" fill="none" stroke="#000" stroke-width="1.6"/>
<path d="M1110.5 1287.4V1280.2H1244.4V1287.4" fill="none" stroke="#000" stroke-width="1.6"/>
<text x="840.0" y="1323.5" text-anchor="middle" font-size="30" >Pre</text>
<text x="971.0" y="1323.5" text-anchor="middle" font-size="30" >Post</text>
<text x="1105.0" y="1323.5" text-anchor="middle" font-size="30" >Pre</text>
<text x="1239.5" y="1323.5" text-anchor="middle" font-size="30" >Post</text>
<line x1="791.9" y1="1367.2" x2="791.9" y2="1658.3" stroke="#000" stroke-width="1.6"/>
<line x1="784.9" y1="1657.5" x2="791.9" y2="1657.5" stroke="#000" stroke-width="1.6"/>
<text x="777.4" y="1664.5" text-anchor="end" class="tk">0</text>
<line x1="784.9" y1="1599.6" x2="791.9" y2="1599.6" stroke="#000" stroke-width="1.6"/>
<text x="777.4" y="1606.6" text-anchor="end" class="tk">20</text>
<line x1="784.9" y1="1541.7" x2="791.9" y2="1541.7" stroke="#000" stroke-width="1.6"/>
<text x="777.4" y="1548.7" text-anchor="end" class="tk">40</text>
<line x1="784.9" y1="1483.8" x2="791.9" y2="1483.8" stroke="#000" stroke-width="1.6"/>
<text x="777.4" y="1490.8" text-anchor="end" class="tk">60</text>
<line x1="784.9" y1="1425.9" x2="791.9" y2="1425.9" stroke="#000" stroke-width="1.6"/>
<text x="777.4" y="1432.9" text-anchor="end" class="tk">80</text>
<line x1="784.9" y1="1368.0" x2="791.9" y2="1368.0" stroke="#000" stroke-width="1.6"/>
<text x="777.4" y="1375.0" text-anchor="end" class="tk">100</text>
<text transform="translate(684.0 1510.0) rotate(-90)" text-anchor="middle" font-size="30">Paired</text>
<text transform="translate(720.2 1509.0) rotate(-90)" text-anchor="middle" font-size="30">mean difference (cm<tspan font-size="72%" dy="-0.36em">3</tspan><tspan dy="0.26em">)</tspan></text>
<path d="M977.00 1438.23C977.06 1441.48 977.11 1452.48 977.34 1457.69C977.57 1462.91 977.85 1465.87 978.36 1469.54C978.86 1473.21 979.34 1476.03 980.39 1479.69C981.43 1483.36 982.78 1487.31 984.62 1491.54C986.45 1495.77 989.13 1501.13 991.39 1505.08C993.64 1509.03 995.90 1511.85 998.16 1515.23C1000.41 1518.62 1003.09 1522.28 1004.92 1525.39C1006.76 1528.49 1008.31 1531.31 1009.16 1533.85C1010.00 1536.39 1010.06 1538.08 1010.00 1540.62C1009.95 1543.16 1009.66 1546.26 1008.82 1549.08C1007.97 1551.90 1006.70 1554.44 1004.92 1557.54C1003.15 1560.64 1000.41 1564.59 998.16 1567.70C995.90 1570.80 993.50 1573.34 991.39 1576.16C989.27 1578.98 987.16 1581.80 985.46 1584.62C983.77 1587.44 982.36 1589.98 981.23 1593.08C980.10 1596.18 979.31 1599.29 978.69 1603.23C978.07 1607.18 977.79 1610.85 977.51 1616.77C977.23 1622.70 977.09 1635.11 977.00 1638.77L977.00 1638.77 Z" fill="#989898"/>
<line x1="976.2" y1="1477.5" x2="976.2" y2="1594.8" stroke="#000" stroke-width="4.0"/>
<circle cx="976.5" cy="1539.8" r="8.8" fill="#000"/>
<path d="M1245.00 1572.77C1245.09 1574.18 1245.23 1578.98 1245.51 1581.23C1245.79 1583.49 1245.93 1584.48 1246.69 1586.31C1247.46 1588.14 1248.53 1590.26 1250.08 1592.23C1251.63 1594.21 1253.61 1596.18 1256.00 1598.16C1258.40 1600.13 1261.64 1602.25 1264.46 1604.08C1267.28 1605.91 1270.73 1607.61 1272.93 1609.16C1275.13 1610.71 1276.76 1612.26 1277.66 1613.39C1278.57 1614.52 1278.57 1614.94 1278.34 1615.93C1278.12 1616.91 1277.78 1618.04 1276.31 1619.31C1274.84 1620.58 1272.08 1621.99 1269.54 1623.54C1267.00 1625.09 1263.62 1626.93 1261.08 1628.62C1258.54 1630.31 1256.28 1631.86 1254.31 1633.70C1252.34 1635.53 1250.50 1637.64 1249.23 1639.62C1247.96 1641.59 1247.32 1643.71 1246.69 1645.54C1246.07 1647.38 1245.79 1648.93 1245.51 1650.62C1245.23 1652.31 1245.09 1654.85 1245.00 1655.70L1245.00 1655.70 Z" fill="#989898"/>
<line x1="1244.2" y1="1589.2" x2="1244.2" y2="1641.3" stroke="#000" stroke-width="4.0"/>
<circle cx="1244.5" cy="1614.2" r="8.8" fill="#000"/>
<path d="M977.1 1437.0 L977.5 1429.7 Q977.5 1425.5 980.7 1425.5 H1108.8 Q1110.3 1425.5 1110.7 1422.5 L1111.2 1413.5 L1111.7 1422.5 Q1112.1 1425.5 1113.6 1425.5 H1242.3 Q1245.5 1425.5 1245.5 1429.7 L1245.9 1437.0" fill="none" stroke="#000" stroke-width="2.5" stroke-linejoin="round"/>
<text x="1112.3" y="1408.5" text-anchor="middle" font-size="30.5" stroke-width="1.1">#</text>
<text x="1012.3" y="1515.0" text-anchor="middle" font-size="42" font-weight="bold">**</text>
<text x="1280.5" y="1589.5" text-anchor="middle" font-size="42" font-weight="bold">**</text>
<path d="M842.5 1664.8V1658.0H976.2V1664.8" fill="none" stroke="#000" stroke-width="1.6"/>
<path d="M1110.1 1664.8V1658.0H1244.2V1664.8" fill="none" stroke="#000" stroke-width="1.6"/>
<text x="972.7" y="1699.3" text-anchor="middle" font-size="30" >Post</text>
<text x="972.7" y="1729.5" text-anchor="middle" font-size="30" >minus</text>
<text x="972.7" y="1758.3" text-anchor="middle" font-size="30" >Pre</text>
<text x="1240.3" y="1699.3" text-anchor="middle" font-size="30" >Post</text>
<text x="1240.3" y="1729.5" text-anchor="middle" font-size="30" >minus</text>
<text x="1240.3" y="1758.3" text-anchor="middle" font-size="30" >Pre</text>
</svg></body></html>
